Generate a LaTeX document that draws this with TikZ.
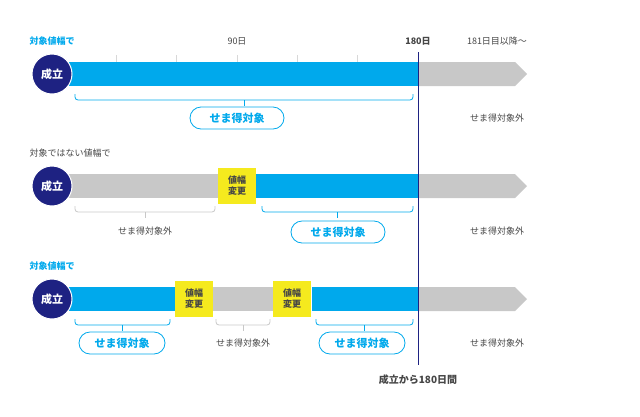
\documentclass[tikz,border=0pt]{standalone}
\usepackage{fontspec}
\setmainfont{Noto Sans CJK JP}
\usetikzlibrary{positioning,calc}
\definecolor{barblue}{RGB}{0,169,236}
\definecolor{navy}{RGB}{30,34,130}
\definecolor{bargray}{RGB}{200,200,200}
\definecolor{chgyellow}{RGB}{245,234,30}
\definecolor{textgray}{RGB}{70,70,70}
\newcommand{\spanbrace}[4]{% x1, x2, y, colour
  \draw[#4, line width=0.8pt, rounded corners=3pt] (#1,#3) -- (#1,#3+6) -- (#2,#3+6) -- (#2,#3);
  \draw[#4, line width=0.8pt] ({(#1+#2)/2},#3+6) -- ({(#1+#2)/2},#3+12);}
\newcommand{\grayarrow}[1]{% y centre
  \fill[bargray] (418,#1-12) -- (515,#1-12) -- (527,#1) -- (515,#1+12) -- (418,#1+12) -- cycle;}
\begin{document}
\begin{tikzpicture}[x=1pt, y=-1pt,
    start/.style={circle, draw=white, line width=1pt, fill=navy, minimum size=40pt,
                  text=white, font=\bfseries\fontsize{11}{11}\selectfont},
    change/.style={rectangle, fill=chgyellow, minimum width=38pt, minimum height=36pt,
                   align=center, font=\bfseries\fontsize{9}{11}\selectfont, text=textgray, inner sep=0pt},
    target/.style={rectangle, rounded corners=11pt, draw=barblue, line width=0.8pt, fill=white,
                   minimum width=94pt, minimum height=22pt, text=barblue, font=\bfseries\fontsize{11}{11}\selectfont},
    outside/.style={text=textgray, font=\fontsize{9}{9}\selectfont},
    rowlabel/.style={anchor=west, font=\bfseries\fontsize{9}{9}\selectfont},
    blubar/.style={fill=barblue},
    grybar/.style={fill=bargray}
]
\useasboundingbox (0,0) rectangle (640,416);

% Scale on top
\node[rowlabel, text=barblue] (lab1) at (26,41) {対象値幅で};
\node[outside] (d90) at (237,41) {90日};
\node[font=\bfseries\fontsize{9}{9}\selectfont, text=textgray] (d180) at (418,41) {180日};
\node[outside] (d181) at (497,41) {181日目以降～};
\foreach \tx in {116,176,237,297,357}
  \draw[bargray!70] (\tx,55) -- (\tx,62);

% Row 1
\grayarrow{74}
\fill[blubar] (60,62) rectangle (418,86);
\node[start] (s1) at (52,74) {成立};
\spanbrace{75}{413}{94}{barblue}
\node[target] (t1) at (237,118) {せま得対象};
\node[outside] (o1) at (497,118) {せま得対象外};

% Row 2
\node[rowlabel, text=textgray, font=\fontsize{9}{9}\selectfont] (lab2) at (26,153) {対象ではない値幅で};
\grayarrow{186}
\fill[grybar] (60,174) rectangle (218,198);
\fill[blubar] (256,174) rectangle (418,198);
\node[start] (s2) at (52,186) {成立};
\node[change] (c2) at (237,186) {値幅\\変更};
\spanbrace{75}{215}{206}{bargray}
\node[outside] (o2a) at (145,231) {せま得対象外};
\spanbrace{262}{413}{206}{barblue}
\node[target] (t2) at (338,232) {せま得対象};
\node[outside] (o2) at (497,231) {せま得対象外};

% Row 3
\node[rowlabel, text=barblue] (lab3) at (26,266) {対象値幅で};
\grayarrow{299}
\fill[blubar] (60,287) rectangle (175,311);
\fill[grybar] (213,287) rectangle (273,311);
\fill[blubar] (312,287) rectangle (418,311);
\node[start] (s3) at (52,299) {成立};
\node[change] (c3a) at (194,299) {値幅\\変更};
\node[change] (c3b) at (292,299) {値幅\\変更};
\spanbrace{75}{170}{319}{barblue}
\node[target, minimum width=86pt] (t3a) at (122,343) {せま得対象};
\spanbrace{216}{270}{319}{bargray}
\node[outside] (o3a) at (243,343) {せま得対象外};
\spanbrace{316}{413}{319}{barblue}
\node[target, minimum width=86pt] (t3b) at (362,343) {せま得対象};
\node[outside] (o3) at (497,343) {せま得対象外};

% 180-day line
\draw[navy, line width=1pt] (418,52) -- (418,365);
\node[font=\bfseries\fontsize{10}{10}\selectfont, text=textgray] (span) at (418,380) {成立から180日間};
\end{tikzpicture}
\end{document}
